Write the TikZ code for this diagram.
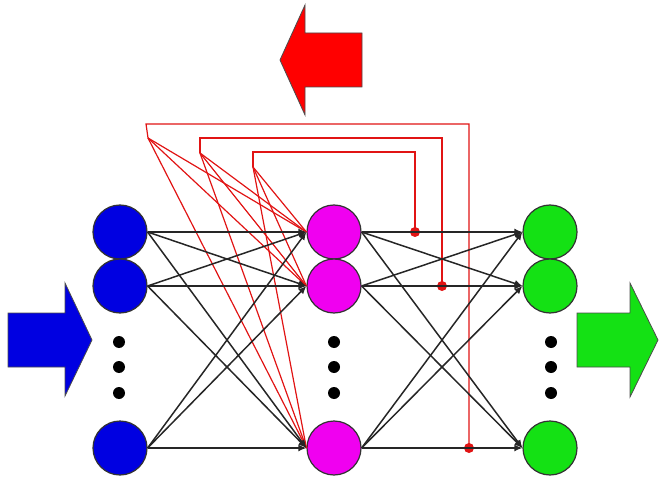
\documentclass[tikz,border=0pt]{standalone}
\usetikzlibrary{arrows.meta}
\definecolor{inblue}{RGB}{0,0,225}
\definecolor{hidmag}{RGB}{240,0,240}
\definecolor{outgreen}{RGB}{20,225,20}
\definecolor{fbred}{RGB}{225,20,20}
\definecolor{arrred}{RGB}{255,0,0}
\begin{document}
\begin{tikzpicture}[x=1pt,y=-1pt,
  neuron/.style={circle,draw=black!80,line width=1.2pt,minimum size=54pt,inner sep=0pt},
  dotnode/.style={circle,fill=black,minimum size=12pt,inner sep=0pt},
  conn/.style={draw=black!85,line width=1.5pt,-{Latex[length=8pt,width=7pt]}},
  fb/.style={draw=fbred,line width=1.2pt},
  fbdot/.style={circle,fill=fbred,minimum size=10pt,inner sep=0pt},
  bigarrow/.style={draw=black!70,line width=0.8pt}]
\useasboundingbox (0,0) rectangle (666,478);
% arrows
\filldraw[bigarrow,fill=inblue] (8,313) -- (65,313) -- (65,283) -- (92,340) -- (65,396) -- (65,367) -- (8,367) -- cycle;
\filldraw[bigarrow,fill=outgreen] (577,313) -- (630,313) -- (630,283) -- (658,340) -- (630,397) -- (630,367) -- (577,367) -- cycle;
\filldraw[bigarrow,fill=arrred] (362,33) -- (305,33) -- (305,5) -- (280,60) -- (305,115) -- (305,87) -- (362,87) -- cycle;
% neurons
\foreach \n/\y in {1/232,2/286,3/448}{
  \node[neuron,fill=inblue] (i\n) at (120,\y) {};
  \node[neuron,fill=hidmag] (h\n) at (334,\y) {};
  \node[neuron,fill=outgreen] (o\n) at (550,\y) {};
}
\foreach \c/\x in {a/119,b/334,c/551}{
  \node[dotnode] (\c1) at (\x,342) {};
  \node[dotnode] (\c2) at (\x,367) {};
  \node[dotnode] (\c3) at (\x,393) {};
}
% red feedback
\node[fbdot] (r1) at (415,232) {};
\node[fbdot] (r2) at (442,286) {};
\node[fbdot] (r3) at (469,448) {};
\coordinate (c1) at (253,152); \coordinate (f1) at (253,167);
\coordinate (c2) at (200,138); \coordinate (f2) at (200,153);
\coordinate (c3) at (146,124); \coordinate (f3) at (148,138);
\draw[fb] (r1.center) |- (c1) -- (f1);
\draw[fb] (r2.center) |- (c2) -- (f2);
\draw[fb] (r3.center) |- (c3) -- (f3);
\foreach \f in {f1,f2,f3}{
  \foreach \h in {h1,h2,h3}{
    \draw[fb] (\f) -- (\h.west);
  }
}
% black connections
\foreach \a in {1,2,3}{
  \foreach \b in {1,2,3}{
    \draw[conn] (i\a.east) -- (h\b.west);
    \draw[conn] (h\a.east) -- (o\b.west);
  }
}
\end{tikzpicture}
\end{document}
